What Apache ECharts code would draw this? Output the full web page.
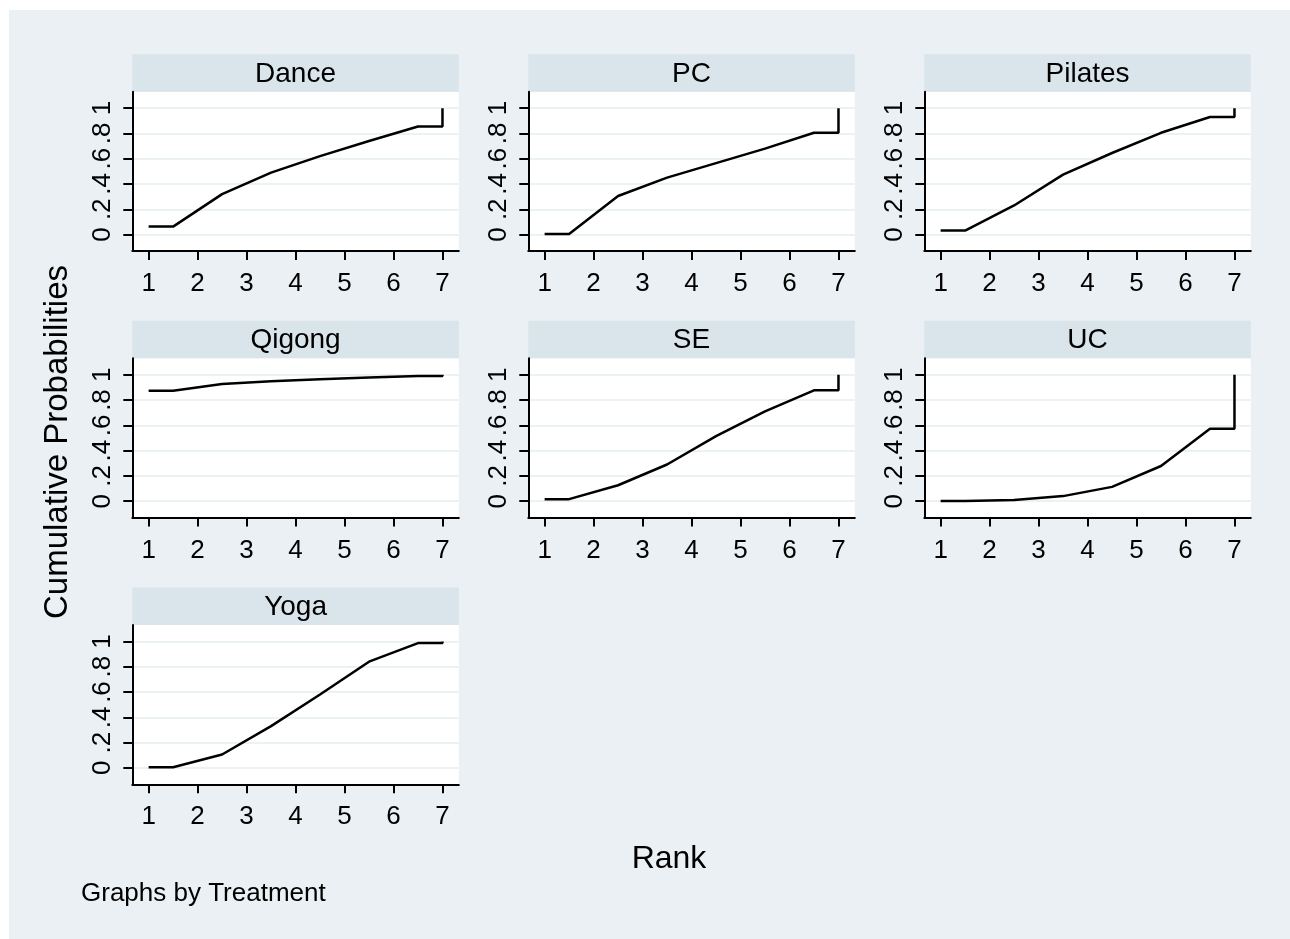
<!DOCTYPE html>
<html>
<head>
<meta charset="utf-8">
<title>Cumulative Probabilities by Treatment</title>
<script src="https://cdn.jsdelivr.net/npm/echarts@6/dist/echarts.min.js"></script>
<style>
  html, body { margin: 0; padding: 0; background: #ffffff; }
  #chart { width: 1290px; height: 939px; }
</style>
</head>
<body>
<div id="chart"></div>
<script>
// Cumulative ranking probabilities, P(rank <= k), for k = 1..7
const treatments = ['Dance', 'PC', 'Pilates', 'Qigong', 'SE', 'UC', 'Yoga'];
const ranks = [1, 2, 3, 4, 5, 6, 7];
const dance   = [0.063, 0.320, 0.490, 0.620, 0.740, 0.855, 1];
const pc      = [0.005, 0.305, 0.450, 0.565, 0.680, 0.805, 1];
const pilates = [0.032, 0.230, 0.474, 0.645, 0.805, 0.930, 1];
const qigong  = [0.874, 0.926, 0.948, 0.965, 0.978, 0.990, 1];
const se      = [0.016, 0.126, 0.290, 0.515, 0.710, 0.877, 1];
const uc      = [0.001, 0.010, 0.040, 0.113, 0.278, 0.572, 1];
const yoga    = [0.005, 0.106, 0.330, 0.580, 0.840, 0.987, 1];
const seriesValues = [dance, pc, pilates, qigong, se, uc, yoga];

const yTicks = [0, 0.2, 0.4, 0.6, 0.8, 1];
const yTickLabels = ['0', '.2', '.4', '.6', '.8', '1'];
const xTicks = ranks;

const xTitle = 'Rank';
const yTitle = 'Cumulative Probabilities';
const note = 'Graphs by Treatment';

// Panel layout
const FONT = '"Liberation Sans", Arial, Helvetica, sans-serif';
const colLeft = [132.3, 528.3, 924.3];
const rowTop = [91.7, 358.3, 625];
const panelW = 326.5;
const panelH = 159.3;
const stripH = 37.5;

// Step-like path: flat over the first half rank, joined at rank midpoints,
// flat to the last rank, then up to the final cumulative value.
function stepPath(vals) {
  const n = vals.length;
  const pts = [[ranks[0], vals[0]]];
  for (let k = 0; k < n - 1; k++) pts.push([ranks[k] + 0.5, vals[k]]);
  pts.push([ranks[n - 1], vals[n - 2]]);
  pts.push([ranks[n - 1], vals[n - 1]]);
  return pts;
}

const grids = [], xAxes = [], yAxes = [], series = [], graphics = [];

// white margin at top and left of the graph region
graphics.push({ type: 'rect', shape: { x: 0, y: 0, width: 1290, height: 10 }, style: { fill: '#ffffff' }, silent: true });
graphics.push({ type: 'rect', shape: { x: 0, y: 0, width: 9, height: 939 }, style: { fill: '#ffffff' }, silent: true });

treatments.forEach((name, i) => {
  const col = i % 3, row = Math.floor(i / 3);
  const left = colLeft[col], top = rowTop[row];
  grids.push({
    left: left, top: top, width: panelW, height: panelH,
    show: true, backgroundColor: '#ffffff', borderWidth: 0, containLabel: false
  });
  xAxes.push({
    type: 'value', gridIndex: i, min: 2 / 3, max: 7 + 1 / 3,
    axisLine: { show: true, onZero: false, lineStyle: { color: '#000', width: 2 } },
    axisTick: { show: true, length: 9, customValues: xTicks, lineStyle: { color: '#000', width: 2 } },
    axisLabel: { show: true, customValues: xTicks, margin: 20, fontSize: 26, color: '#000', fontFamily: FONT },
    splitLine: { show: false }
  });
  yAxes.push({
    type: 'value', gridIndex: i, min: -0.13, max: 1.13,
    axisLine: { show: true, onZero: false, lineStyle: { color: '#000', width: 2 } },
    axisTick: { show: true, length: 9, customValues: yTicks, lineStyle: { color: '#000', width: 2 } },
    axisLabel: {
      show: true, customValues: yTicks, rotate: 90, margin: 16, fontSize: 26, color: '#000', fontFamily: FONT,
      formatter: v => {
        const idx = yTicks.findIndex(t => Math.abs(t - v) < 1e-9);
        return idx >= 0 ? yTickLabels[idx] : '';
      }
    },
    splitLine: { show: true, lineStyle: { color: '#EAF2F3', width: 2 } }
  });
  series.push({
    type: 'line', name: name, xAxisIndex: i, yAxisIndex: i,
    data: stepPath(seriesValues[i]),
    showSymbol: false, symbol: 'none', clip: false, animation: false,
    lineStyle: { color: '#000', width: 2.5 }
  });
  // strip title
  graphics.push({
    type: 'rect', shape: { x: left, y: top - stripH, width: panelW, height: stripH },
    style: { fill: '#D9E5EB' }, silent: true
  });
  graphics.push({
    type: 'text', x: left + panelW / 2, y: top - stripH / 2 + 1,
    style: { text: name, fill: '#000', font: '28px ' + FONT, textAlign: 'center', textVerticalAlign: 'middle' },
    silent: true
  });
});

graphics.push({
  type: 'text', x: 669, y: 859,
  style: { text: xTitle, fill: '#000', font: '32px ' + FONT, textAlign: 'center', textVerticalAlign: 'middle' },
  silent: true
});
graphics.push({
  type: 'text', x: 58, y: 442, rotation: Math.PI / 2,
  style: { text: yTitle, fill: '#000', font: '33px ' + FONT, textAlign: 'center', textVerticalAlign: 'middle' },
  silent: true
});
graphics.push({
  type: 'text', x: 81, y: 894,
  style: { text: note, fill: '#000', font: '26px ' + FONT, textAlign: 'left', textVerticalAlign: 'middle' },
  silent: true
});

const chart = echarts.init(document.getElementById('chart'), null, { renderer: 'canvas' });
chart.setOption({
  animation: false,
  backgroundColor: '#EAF0F3',
  grid: grids,
  xAxis: xAxes,
  yAxis: yAxes,
  series: series,
  graphic: graphics
});
</script>
</body>
</html>
